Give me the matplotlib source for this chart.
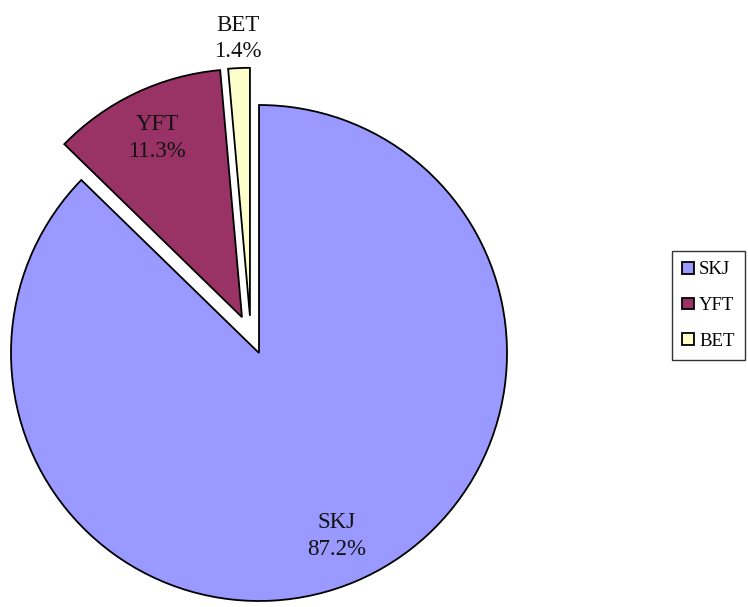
import matplotlib.pyplot as plt
import numpy as np

# Catch composition by species
species = ["SKJ", "YFT", "BET"]
shares = [87.2, 11.3, 1.4]
colors = ["#9999FF", "#993366", "#FFFFCC"]

plt.rcParams['font.family'] = ['Liberation Serif', 'DejaVu Serif']

fig = plt.figure(figsize=(7.48, 6.07), dpi=100)
ax = fig.add_axes([0, 0, 1, 1])

# pie center at (259, 353) px, radius 248 px
R = 248.0
cx, cy = 259.0, 353.0
W, H = 748.0, 607.0

explode = [0, 0.16, 0.15]
wedges, _ = ax.pie(shares, colors=colors, startangle=90, counterclock=False,
                   explode=explode, radius=1.0, frame=True,
                   wedgeprops=dict(edgecolor='black', linewidth=1.3))
# small sliver sits a little left of the vertical in the original
x0, y0 = wedges[2].center
wedges[2].set_center((x0 - 0.03, y0))
ax.set_xlim(-cx / R, (W - cx) / R)
ax.set_ylim(-(H - cy) / R, cy / R)
ax.set_aspect('auto')
ax.axis('off')

# slice labels
label_r = [0.8, 0.8, 1.12]
for w, name, val, r in zip(wedges, species, shares, label_r):
    ang = np.deg2rad((w.theta1 + w.theta2) / 2)
    x0, y0 = w.center
    ax.text(x0 + r * np.cos(ang), y0 + r * np.sin(ang), f"{name}\n{val:.1f}%",
            ha='center', va='center', fontsize=16.5, linespacing=1.35,
            color='#111111')

leg = fig.legend(wedges, species, loc='upper left',
                 bbox_to_anchor=(672 / W, 1 - 251 / H), fontsize=13.5,
                 frameon=True, fancybox=False, edgecolor='black',
                 handlelength=0.6, handleheight=0.6, handletextpad=0.3,
                 labelspacing=1.0, borderpad=0.55, borderaxespad=0)
leg.get_frame().set_linewidth(1.0)

fig.savefig("out.png", dpi=100)
